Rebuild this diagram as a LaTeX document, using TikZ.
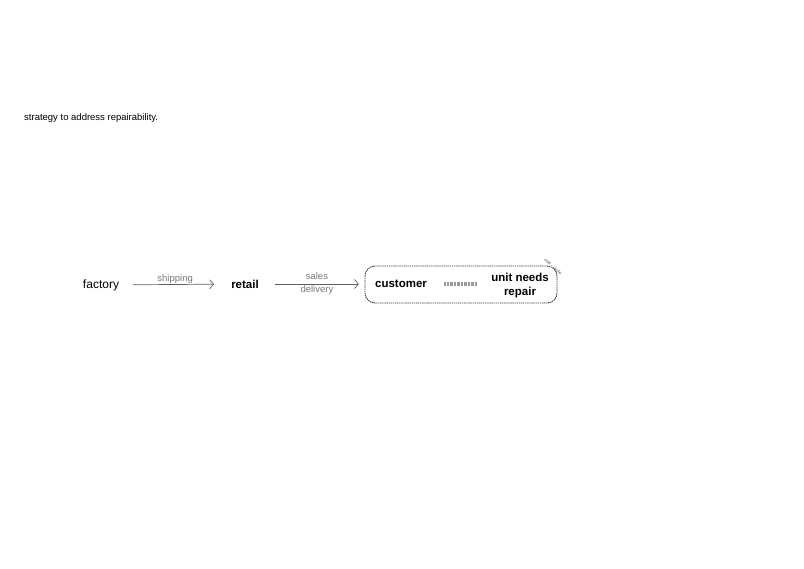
\documentclass[tikz,border=0pt]{standalone}
\usepackage{fontspec}
\setmainfont{Liberation Sans}
\usetikzlibrary{arrows.meta}
\definecolor{labelgray}{RGB}{120,120,120}
\definecolor{linegray}{RGB}{95,95,95}
\tikzset{
  stage/.style={inner sep=1pt, font=\fontsize{12}{13}\selectfont},
  keystage/.style={stage, font=\fontsize{11.5}{13}\selectfont\bfseries, align=center},
  flow/.style={draw=linegray, line width=0.7pt, -{Straight Barb[length=4pt,width=9pt]}},
  flowlabel/.style={text=labelgray, font=\fontsize{9.5}{11}\selectfont, inner sep=1pt}
}
\begin{document}
\begin{tikzpicture}[x=1pt,y=1pt,yscale=-1,xscale=1]
        \useasboundingbox (0,0) rectangle (804,569);
        % Text Node
        \draw (24,118.5) node [anchor=west, font=\fontsize{9.5}{11}\selectfont, inner sep=0pt] (intro) {strategy to address repairability.};
        %Shape: Rounded Rectangle
        \draw [draw=black!75, line width=0.9pt, dash pattern=on 1.4pt off 0.7pt, rounded corners=10] (365,266) rectangle (557,303);
        % Text Node
        \draw (101,285) node [stage] (factory) {factory};
        % Text Node
        \draw (245,284) node [keystage] (retail) {retail};
        % Text Node
        \draw (401,284) node [keystage] (customer) {customer};
        % Text Node
        \draw (520,285.5) node [keystage, font=\fontsize{11.5}{13.5}\selectfont\bfseries] (unit) {unit needs\\repair};
        %Straight Lines
        \draw [flow, shorten <=13pt, shorten >=16pt] (factory) -- (retail) node [midway, above, flowlabel, yshift=-0.5pt] (shiplbl) {shipping};
        %Straight Lines
        \draw [flow, shorten <=15pt, shorten >=15pt] (retail) -- (customer.west |- retail) node [midway, flowlabel, align=center, yshift=0.5pt] (salelbl) {sales\\[1.5pt]delivery};
        %Straight Lines
        \draw [draw=black!40, line width=4pt, dash pattern=on 0.7pt off 0.7pt, shorten <=16pt, shorten >=13pt] (customer.east) -- (unit.west |- customer.east);
        % Text Node
        \draw (553,267) node [rotate=-42, inner sep=0pt, text=black!70, font=\fontsize{4.5}{5}\selectfont] (cyclelbl) {use - cycle};
    \end{tikzpicture}
\end{document}
